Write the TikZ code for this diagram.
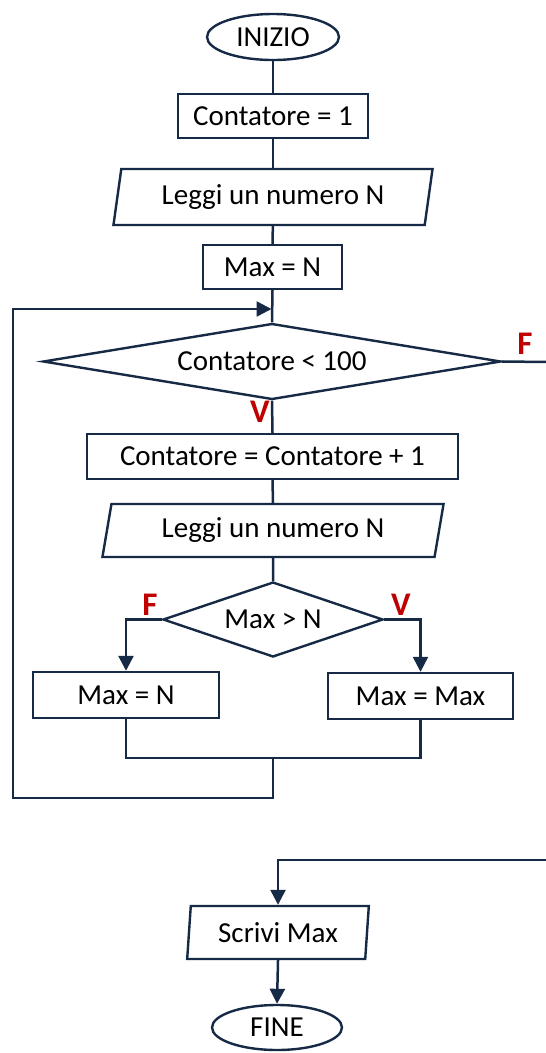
\documentclass[tikz,border=0pt]{standalone}
\usepackage{fontspec}
\setmainfont{Carlito}
\usetikzlibrary{shapes.geometric,arrows.meta}
\definecolor{flowline}{RGB}{22,42,70}
\definecolor{flowred}{RGB}{192,0,0}
\begin{document}
\begin{tikzpicture}[x=1pt,y=-1pt,
  line width=2.5pt, draw=flowline,
  every node/.style={font=\fontsize{29}{34}\selectfont, text=black, inner sep=0pt},
  base/.style={draw=flowline, line width=2.4pt, fill=white},
  terminal/.style={base, ellipse},
  process/.style={base, rectangle},
  io/.style={base, trapezium, trapezium stretches=true},
  decision/.style={base, diamond, aspect=6},
  tag/.style={text=flowred, font=\fontsize{33}{36}\selectfont\bfseries},
  arr/.style={-{Triangle[length=15pt,width=15pt]}},
  ]
\useasboundingbox (0,0) rectangle (546,1053);

% main chain
\node[terminal, minimum width=132, minimum height=46] (start) at (273,37) {INIZIO};
\node[process, minimum width=190, minimum height=44] (c1) at (273,116) {Contatore = 1};
\node[io, trapezium left angle=77, trapezium right angle=103,
      minimum width=320, minimum height=56] (in1) at (273,197) {Leggi un numero N};
\node[process, minimum width=139, minimum height=44] (m1) at (272.5,267) {Max = N};
\node[decision, minimum width=458, minimum height=76] (d1) at (272,361.5) {Contatore < 100};

% loop body
\node[process, minimum width=371, minimum height=45] (c2) at (272.5,456.5) {Contatore = Contatore + 1};
\node[io, trapezium left angle=76, trapezium right angle=104,
      minimum width=342, minimum height=53] (in2) at (273,530.5) {Leggi un numero N};
\node[decision, minimum width=220, minimum height=75] (d2) at (273,619.5) {Max > N};
\node[process, minimum width=186, minimum height=46] (bl) at (126,695) {Max = N};
\node[process, minimum width=185, minimum height=46] (br) at (420.5,696) {Max = Max};

% output and end
\node[io, trapezium left angle=83, trapezium right angle=97,
      minimum width=182, minimum height=53] (out) at (278,932.5) {Scrivi Max};
\node[terminal, minimum width=130, minimum height=45] (end) at (277,1027.5) {FINE};

% branch labels
\node[tag] (fa) at (525,344) {F};
\node[tag] (va) at (260,412) {V};
\node[tag] (fb) at (150,605) {F};
\node[tag] (vb) at (401,605) {V};

% helper points
\coordinate (j) at (273,758);
\coordinate (loopL) at (13,798);
\coordinate (loopIn) at (271.5,309);
\coordinate (exitA) at (548,362);
\coordinate (exitB) at (548,860);

% connectors
\draw (start) -- (c1);
\draw (c1) -- (in1);
\draw (in1) -- (m1);
\draw (m1.south) -- (d1.north);
\draw (d1.south) -- (c2.north);
\draw (c2) -- (in2);
\draw (in2) -- (d2);
\draw[arr] (d2.west) -| (bl.north);
\draw[arr] (d2.east) -| (br.north);
\draw (bl.south) |- (j) -| (br.south);
\draw[arr] (j) |- (loopL) |- (loopIn);
\draw (d1.east) -- (exitA);
\draw[arr] (exitB) -| (out.north);
\draw[arr] (out.south) -- (end.north);
\end{tikzpicture}
\end{document}
